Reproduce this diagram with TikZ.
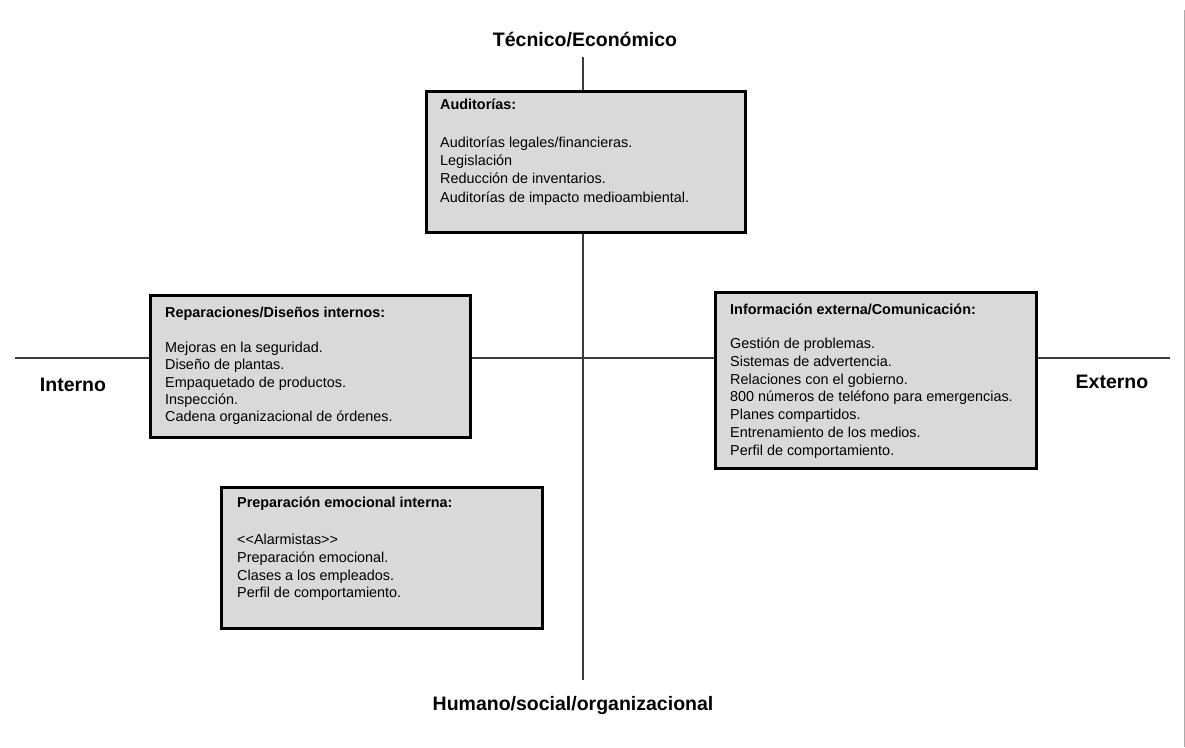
\documentclass[tikz,border=0pt]{standalone}
\usepackage{fontspec}
\setmainfont{Liberation Sans}
\definecolor{boxfill}{RGB}{217,217,217}
\definecolor{axisgray}{RGB}{60,60,60}
\definecolor{edgegray}{RGB}{170,170,170}
\tikzset{
  quadbox/.style={draw=black, line width=3pt, fill=boxfill, anchor=north west,
    inner sep=0pt, outer sep=0pt},
  boxtext/.style={anchor=north west, inner sep=0pt, align=left,
    font=\fontsize{14.4}{17.8}\selectfont},
  axislabel/.style={font=\fontsize{19.5}{23}\selectfont\bfseries, inner sep=0pt},
  axisline/.style={draw=axisgray, line width=1.1pt}
}
\newcommand{\boxhead}[1]{\textbf{#1}}
\begin{document}
\begin{tikzpicture}[x=1pt,y=-1pt]
\useasboundingbox (0,0) rectangle (1185,747);
\draw[edgegray, line width=1pt] (1184,10) -- (1184,747);

% axis ends
\coordinate (top) at (583,57);
\coordinate (bottom) at (583,680);
\coordinate (left) at (15,358);
\coordinate (right) at (1170,358);

\draw[axisline] (top) -- (bottom);
\draw[axisline] (left) -- (right);

% axis labels
\node[axislabel] (ltop) at (585,40) {Técnico/Económico};
\node[axislabel] (lbottom) at (573,705) {Humano/social/organizacional};
\node[axislabel] (lleft) at (73,385) {Interno};
\node[axislabel] (lright) at (1112,382) {Externo};

% quadrant boxes
\node[quadbox, minimum width=319pt, minimum height=141pt] (aud) at (426,91) {};
\node[quadbox, minimum width=320pt, minimum height=142pt] (rep) at (150,295) {};
\node[quadbox, minimum width=321pt, minimum height=176pt] (inf) at (715,292) {};
\node[quadbox, minimum width=321pt, minimum height=141pt] (prep) at (221,487) {};

\node[boxtext] (audtxt) at ([xshift=14pt,yshift=-8pt]aud.north west) {%
  \boxhead{Auditorías:}\\[20pt]
  Auditorías legales/financieras.\\
  Legislación\\
  Reducción de inventarios.\\[1.5pt]
  Auditorías de impacto medioambiental.};

\node[boxtext] (reptxt) at ([xshift=15pt,yshift=-12pt]rep.north west) {%
  \boxhead{Reparaciones/Diseños internos:}\\[17pt]
  Mejoras en la seguridad.\\[-0.5pt]
  Diseño de plantas.\\[-0.5pt]
  Empaquetado de productos.\\[-0.5pt]
  Inspección.\\[-0.5pt]
  Cadena organizacional de órdenes.};

\node[boxtext] (inftxt) at ([xshift=15pt,yshift=-12pt]inf.north west) {%
  \boxhead{Información externa/Comunicación:}\\[16pt]
  Gestión de problemas.\\
  Sistemas de advertencia.\\
  Relaciones con el gobierno.\\
  800 números de teléfono para emergencias.\\
  Planes compartidos.\\
  Entrenamiento de los medios.\\
  Perfil de comportamiento.};

\node[boxtext] (preptxt) at ([xshift=16pt,yshift=-10pt]prep.north west) {%
  \boxhead{Preparación emocional interna:}\\[19pt]
  <{}<Alarmistas>{}>\\
  Preparación emocional.\\
  Clases a los empleados.\\
  Perfil de comportamiento.};
\end{tikzpicture}
\end{document}
